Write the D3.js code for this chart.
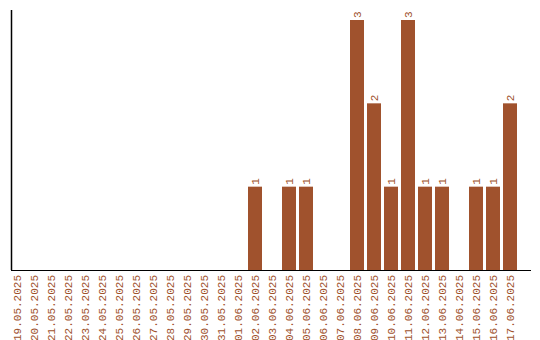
<!DOCTYPE html>
<html>
<head>
<meta charset="utf-8">
<script src="https://cdn.jsdelivr.net/npm/d3@7"></script>
<style>
	body { margin: 0; background: #fff; }
	text { font-family: "Liberation Mono", monospace; font-size: 11px; fill: #a0522d; }
</style>
</head>
<body>
<svg width="540" height="340"></svg>
<script>
const dates = ['19.05.2025', '20.05.2025', '21.05.2025', '22.05.2025', '23.05.2025',
	'24.05.2025', '25.05.2025', '26.05.2025', '27.05.2025', '28.05.2025',
	'29.05.2025', '30.05.2025', '31.05.2025', '01.06.2025', '02.06.2025',
	'03.06.2025', '04.06.2025', '05.06.2025', '06.06.2025', '07.06.2025',
	'08.06.2025', '09.06.2025', '10.06.2025', '11.06.2025', '12.06.2025',
	'13.06.2025', '14.06.2025', '15.06.2025', '16.06.2025', '17.06.2025'];
const counts = [0, 0, 0, 0, 0, 0, 0, 0, 0, 0, 0, 0, 0, 0, 1,
	0, 1, 1, 0, 0, 3, 2, 1, 3, 1, 1, 0, 1, 1, 2];
const yMax = 3;

const svg = d3.select('svg'),
	barColor = '#a0522d',
	axisLeftX = 11, axisBottomY = 270, plotTop = 20;

let xScale = d3.scaleBand()
	.domain(dates)
	.range([10, 517])
	.paddingInner(3 / 17)
	.paddingOuter(0);

let yScale = d3.scaleLinear()
	.domain([0, yMax])
	.range([axisBottomY, plotTop]);

let data = dates.map((d, i) => ({date: d, n: counts[i]}));

// bars
svg.selectAll('rect.bar')
	.data(data.filter(d => d.n > 0))
	.enter()
	.append('rect')
	.attr('class', 'bar')
	.attr('x', d => xScale(d.date))
	.attr('y', d => yScale(d.n))
	.attr('width', xScale.bandwidth())
	.attr('height', d => axisBottomY - yScale(d.n))
	.style('fill', barColor);

// value labels, rotated
svg.selectAll('text.val')
	.data(data.filter(d => d.n > 0))
	.enter()
	.append('text')
	.attr('class', 'val')
	.attr('transform', d => `translate(${xScale(d.date) + xScale.bandwidth() / 2 + 4},${yScale(d.n) - 2}) rotate(-90)`)
	.attr('text-anchor', 'start')
	.text(d => d.n);

// axes lines
svg.append('line')
	.attr('x1', axisLeftX + 0.5).attr('x2', axisLeftX + 0.5)
	.attr('y1', 10).attr('y2', axisBottomY)
	.style('stroke', '#000').style('stroke-width', 1.5);

svg.append('line')
	.attr('x1', axisLeftX).attr('x2', 531)
	.attr('y1', axisBottomY + 0.5).attr('y2', axisBottomY + 0.5)
	.style('stroke', '#000').style('stroke-width', 1);

// date labels
svg.selectAll('text.date')
	.data(dates)
	.enter()
	.append('text')
	.attr('class', 'date')
	.attr('transform', d => `translate(${xScale(d) + xScale.bandwidth() / 2 + 4},${axisBottomY + 5}) rotate(-90)`)
	.attr('text-anchor', 'end')
	.text(d => d);
</script>
</body>
</html>
